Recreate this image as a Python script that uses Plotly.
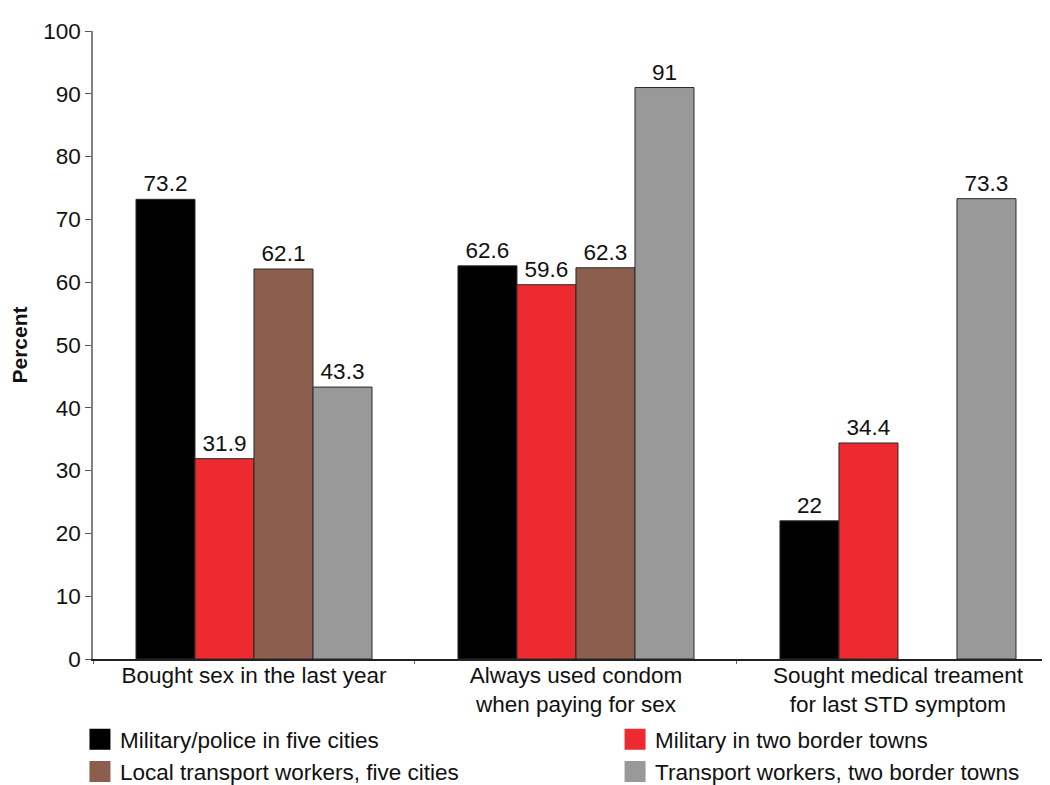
import plotly.graph_objects as go

categories = ["Bought sex in the last year",
              "Always used condom<br>when paying for sex",
              "Sought medical treament<br>for last STD symptom"]
series_names = ["Military/police in five cities",
                "Military in two border towns",
                "Local transport workers, five cities",
                "Transport workers, two border towns"]
military_police = [73.2, 62.6, 22]
military_border = [31.9, 59.6, 34.4]
local_transport = [62.1, 62.3, None]
transport_border = [43.3, 91, 73.3]
colors = ["#000000", "#EC2A2F", "#8B5E4E", "#999999"]
legend_slots = ["legend", "legend2", "legend", "legend2"]
y_ticks = list(range(0, 101, 10))

FONT = "Liberation Sans, Arial, sans-serif"
FS = 22.5
fig = go.Figure()
all_values = [military_police, military_border, local_transport, transport_border]
for name, vals, col in zip(series_names, all_values, colors):
    fig.add_trace(go.Bar(
        x=categories, y=vals, name=name, showlegend=False,
        marker=dict(color=col, line=dict(color="#2a2a2a", width=1)),
        text=[("" if v is None else f"{v:g}") for v in vals],
        textposition="outside", cliponaxis=False,
        textfont=dict(family=FONT, size=FS, color="#111111"),
    ))
# legend proxies (larger square swatches), two columns via two legends
for i, (name, col, lg) in enumerate(zip(series_names, colors, legend_slots)):
    fig.add_trace(go.Scatter(
        x=[None], y=[None], mode="markers", name=name, legend=lg,
        legendgroup=f"g{i}",
        marker=dict(symbol="square", size=16, color=col, line=dict(color=col, width=5)),
    ))

leg_common = dict(orientation="v", yanchor="top", y=-0.094, xanchor="left",
                  font=dict(family=FONT, size=FS, color="#111111"),
                  tracegroupgap=0, itemclick=False, bgcolor="rgba(0,0,0,0)")
fig.update_layout(
    width=1050, height=785,
    margin=dict(l=85, r=0, t=23, b=134, autoexpand=False),
    paper_bgcolor="white", plot_bgcolor="white",
    barmode="group", bargap=0.267, bargroupgap=0,
    font=dict(family=FONT, size=FS, color="#111111"),
    showlegend=True,
    legend=dict(x=-0.0135, **leg_common),
    legend2=dict(x=0.541, **leg_common),
)
fig.update_xaxes(
    type="category", range=[-0.5, 2.497],
    showline=True, linecolor="#222222", linewidth=1.5,
    ticks="outside", tickson="boundaries", ticklen=3, tickcolor="#666666",
    ticklabelstandoff=-5,
    tickfont=dict(family=FONT, size=FS, color="#111111"),
    showgrid=False, zeroline=False,
)
fig.update_yaxes(
    range=[0, 100], tickvals=y_ticks,
    showline=True, linecolor="#808080", linewidth=1.5,
    ticks="outside", ticklen=6, tickcolor="#555555",
    tickfont=dict(family=FONT, size=FS, color="#111111"),
    showgrid=False, zeroline=False,
    title=dict(text="<b>Percent</b>", font=dict(family=FONT, size=21, color="#111111"), standoff=10),
)
fig.write_html("out.html")
